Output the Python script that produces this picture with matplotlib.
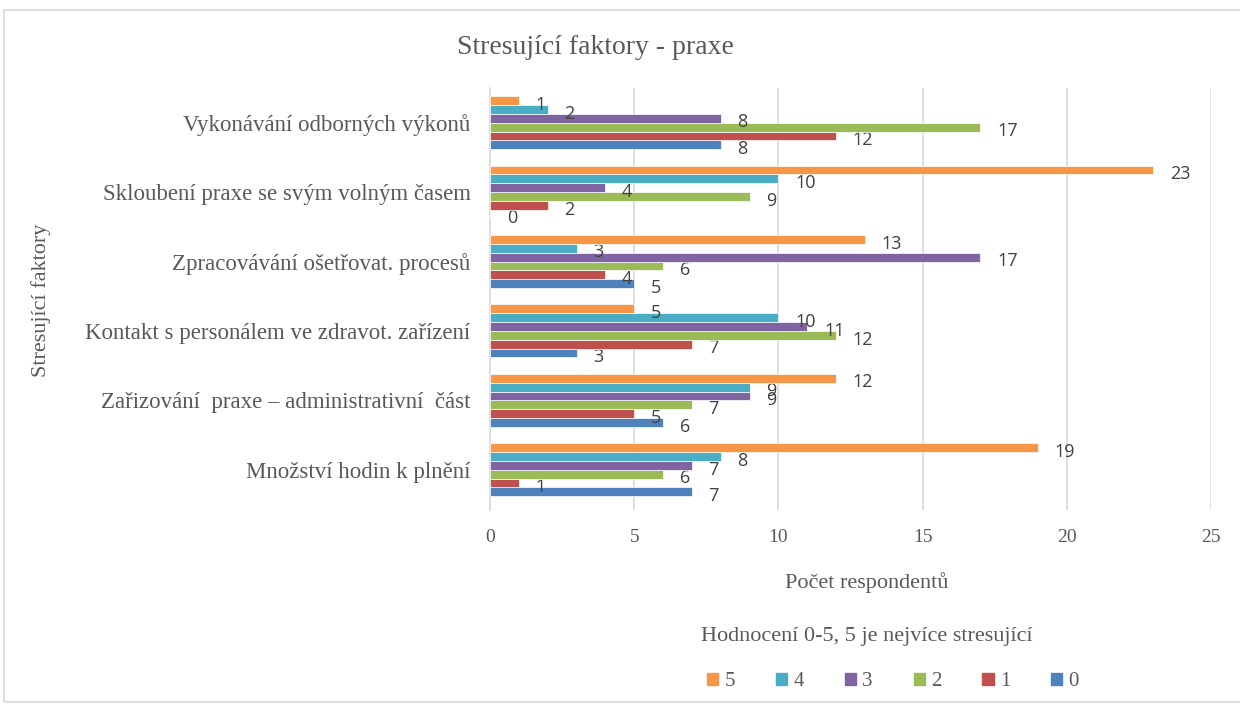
import matplotlib.pyplot as plt
import numpy as np
from matplotlib.patches import Rectangle, Patch

# categories, bottom to top
categories = ["Množství hodin k plnění",
              "Zařizování  praxe – administrativní  část",
              "Kontakt s personálem ve zdravot. zařízení",
              "Zpracovávání ošetřovat. procesů",
              "Skloubení praxe se svým volným časem",
              "Vykonávání odborných výkonů"]
series_names = ["0", "1", "2", "3", "4", "5"]
s0 = [7, 6, 3, 5, 0, 8]
s1 = [1, 5, 7, 4, 2, 12]
s2 = [6, 7, 12, 6, 9, 17]
s3 = [7, 9, 11, 17, 4, 8]
s4 = [8, 9, 10, 3, 10, 2]
s5 = [19, 12, 5, 13, 23, 1]
series = [s0, s1, s2, s3, s4, s5]
colors = ["#4F81BD", "#C0504D", "#9BBB59", "#8064A2", "#4BACC6", "#F79646"]

serif = "Liberation Serif"
sans = "Open Sans"
txt = "#595959"

fig = plt.figure(figsize=(12.4, 7.04), dpi=100)
fig.patches.append(Rectangle((4/1240, 0.003), 1.2, 1 - 10/704 - 0.003, transform=fig.transFigure,
                             fill=False, edgecolor="#d9d9d9", linewidth=1.2))
ax = fig.add_axes([490/1240, 1 - 510/704, (1211-490)/1240, (510-88)/704])

y = np.arange(len(categories))
h = 0.127
for i, vals in enumerate(series):
    off = (i - 2.5) * h
    ax.barh(y + off, vals, height=h, color=colors[i], edgecolor="white", linewidth=0.5, zorder=3)
    for yy, v in zip(y, vals):
        ax.annotate(str(v), (v, yy + off), xytext=(12, -3), textcoords="offset points",
                    ha="left", va="center", fontsize=13, family=sans, color="#404040")

ax.set_xlim(0, 25)
ax.set_ylim(-0.58, 5.5)
ax.set_xticks(range(0, 26, 5))
ax.grid(axis="x", color="#d9d9d9", linewidth=1.2, zorder=0)
for s in ["top", "right", "bottom"]:
    ax.spines[s].set_visible(False)
ax.spines["left"].set_color("#d9d9d9")
ax.spines["left"].set_linewidth(1.2)
ax.set_yticks(y)
ax.set_yticklabels(categories, family=serif, fontsize=16.5, color=txt)
ax.tick_params(axis="y", length=0, pad=14)
ax.tick_params(axis="x", length=0, pad=14, labelsize=14, labelcolor=txt)
for t in ax.get_xticklabels():
    t.set_family(serif)

fig.text(595/1240, 1 - 47/704, "Stresující faktory - praxe", family=serif, fontsize=20,
         color=txt, ha="center", va="center")
fig.text(41/1240, 1 - 300/704, "Stresující faktory", family=serif, fontsize=16,
         color=txt, rotation=90, ha="center", va="center")
fig.text(867/1240, 1 - 583/704, "Počet respondentů", family=serif, fontsize=16,
         color=txt, ha="center", va="center")
fig.text(867/1240, 1 - 636/704, "Hodnocení 0-5, 5 je nejvíce stresující", family=serif,
         fontsize=16, color=txt, ha="center", va="center")

handles = [Patch(color=colors[i], label=series_names[i]) for i in range(5, -1, -1)]
leg = fig.legend(handles=handles, loc="center", bbox_to_anchor=(893/1240, 1 - 682/704),
                 ncol=6, frameon=False, handlelength=0.55, handleheight=0.55,
                 handletextpad=0.3, columnspacing=1.95,
                 prop={"family": serif, "size": 15})
for t in leg.get_texts():
    t.set_color(txt)

fig.savefig("out.png", dpi=100)
